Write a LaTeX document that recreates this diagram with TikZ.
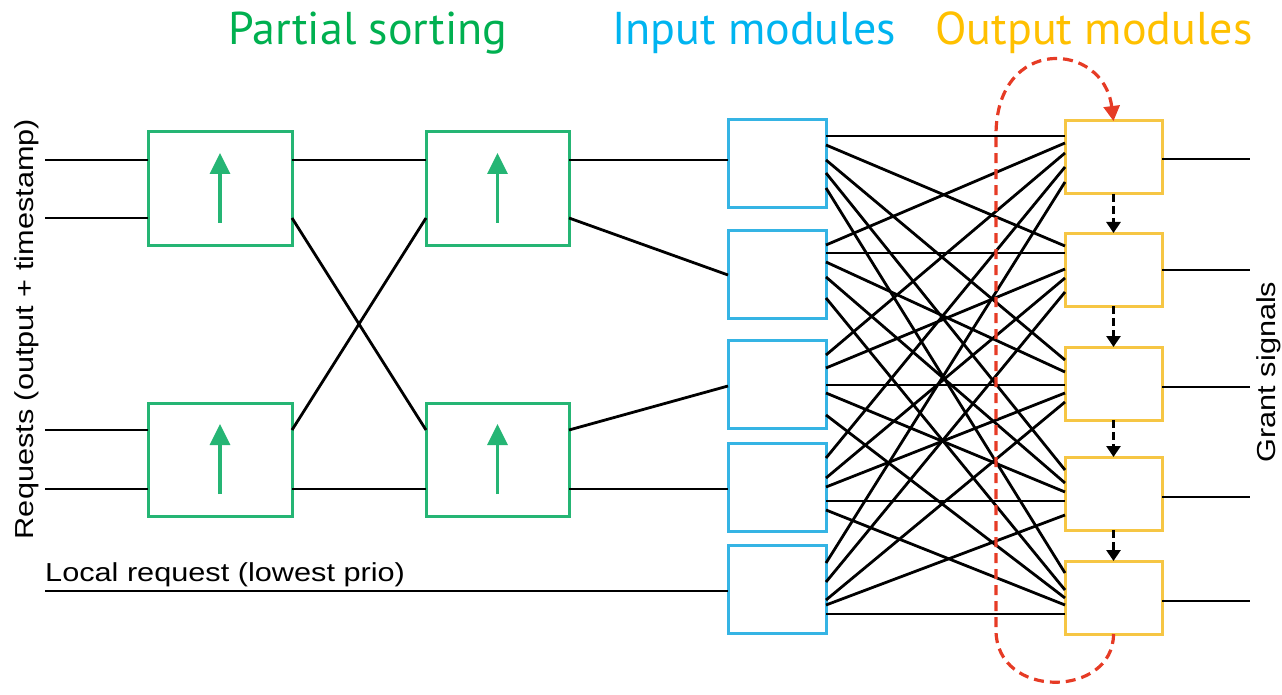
\documentclass[tikz,border=0pt]{standalone}
\usepackage{fontspec}
\setmainfont{Liberation Sans}
\newfontfamily\titlefont{PT Sans}
\usetikzlibrary{arrows.meta,calc}
\definecolor{boxgreen}{HTML}{25B574}
\definecolor{boxblue}{HTML}{35B4E4}
\definecolor{boxyellow}{HTML}{F6C644}
\definecolor{tgreen}{HTML}{00B050}
\definecolor{tblue}{HTML}{00B4F0}
\definecolor{tyellow}{HTML}{FFC000}
\definecolor{loopred}{HTML}{E63B25}
\begin{document}
\begin{tikzpicture}[x=1pt,y=-1pt,
  wire/.style={line width=2.8pt,black},
  sortbox/.style={draw=boxgreen,line width=3pt,fill=white,minimum width=144pt,minimum height=113pt,inner sep=0pt,outer sep=0pt},
  inbox/.style={draw=boxblue,line width=3pt,fill=white,minimum width=98pt,minimum height=88pt,inner sep=0pt,outer sep=0pt},
  outbox/.style={draw=boxyellow,line width=3pt,fill=white,minimum width=97pt,minimum height=73pt,inner sep=0pt,outer sep=0pt},
  sortarrow/.style={draw=boxgreen,line width=3.2pt,-{Triangle[length=21pt,width=20pt]}},
  chainarrow/.style={line width=3.5pt,black,dash pattern=on 8pt off 4pt,-{Triangle[length=11pt,width=14pt]}},
  looppath/.style={line width=3.2pt,loopred,dash pattern=on 10pt off 6pt,-{Triangle[length=15pt,width=16pt]}},
  titletext/.style={font=\titlefont\fontsize{46}{46}\selectfont,anchor=base,inner sep=0pt},
  sidetext/.style={font=\fontsize{26}{26}\selectfont,inner sep=0pt}
]
\useasboundingbox (0,0) rectangle (1282,695);

% titles
\node[titletext,text=tgreen] (t1) at (368,45) {Partial sorting};
\node[titletext,text=tblue] (t2) at (754,45) {Input modules};
\node[titletext,text=tyellow] (t3) at (1094,45) {Output modules};

% side labels
\node[sidetext,rotate=90,anchor=base] (req) at (33,329) {\scalebox{1.18}[1]{Requests (output + timestamp)}};
\node[sidetext,rotate=90,anchor=base] (grant) at (1275,372) {\scalebox{1.18}[1]{Grant signals}};
\node[sidetext,anchor=base west] (local) at (45,581) {\scalebox{1.18}[1]{Local request (lowest prio)}};

% sorting boxes
\node[sortbox] (s1a) at (220,188.5) {};
\node[sortbox] (s1b) at (220,459.5) {};
\node[sortbox,minimum width=143pt] (s2a) at (497.5,188.5) {};
\node[sortbox,minimum width=143pt] (s2b) at (497.5,459.5) {};
\foreach \s in {s1a,s1b,s2a,s2b}
  \draw[sortarrow] ($(\s.south)+(0,-22)$) -- ($(\s.north)+(0,21)$);

% input and output modules
\foreach \i/\y in {1/164,2/274,3/384,4/487,5/589}
  \node[inbox] (in\i) at (777,\y) {};
\foreach \j/\y in {1/157.5,2/269.5,3/383.5,4/493.5,5/597.5}
  \node[outbox] (o\j) at (1113.5,\y) {};

% free ends on the left
\coordinate (r1) at (45,160);
\coordinate (r2) at (45,218);
\coordinate (r3) at (45,430);
\coordinate (r4) at (45,489);
\coordinate (r5) at (45,591);

\draw[wire] (r1) -- ($(s1a.north west)+(0,28)$);
\draw[wire] (r2) -- ($(s1a.north west)+(0,86)$);
\draw[wire] (r3) -- ($(s1b.north west)+(0,27)$);
\draw[wire] (r4) -- ($(s1b.north west)+(0,86)$);

% first stage to second stage
\draw[wire] ($(s1a.north east)+(0,28)$) -- ($(s2a.north west)+(0,28)$);
\draw[wire] ($(s1a.north east)+(0,86)$) -- ($(s2b.north west)+(0,27)$);
\draw[wire] ($(s1b.north east)+(0,27)$) -- ($(s2a.north west)+(0,86)$);
\draw[wire] ($(s1b.north east)+(0,86)$) -- ($(s2b.north west)+(0,86)$);

% second stage to input modules
\draw[wire] ($(s2a.north east)+(0,28)$) -- ($(in1.north west)+(0,40)$);
\draw[wire] ($(s2a.north east)+(0,86)$) -- ($(in2.north west)+(0,45)$);
\draw[wire] ($(s2b.north east)+(0,27)$) -- ($(in3.north west)+(0,46)$);
\draw[wire] ($(s2b.north east)+(0,86)$) -- ($(in4.north west)+(0,46)$);
\draw[wire] (r5) -- ($(in5.north west)+(0,46)$);

% crossbar
\def\inoffs{{16,25,40,53,68, 15,23,32,47,68, 15,28,45,53,75, 15,35,44,58,67, 18,37,55,60,69}}
\def\outoffs{{15,22,32,46,61, 13,20,36,45,59, 13,25,38,46,55, 13,26,35,44,58, 12,29,37,44,53}}
\foreach \i in {1,...,5}{
  \foreach \j in {1,...,5}{
    \pgfmathsetmacro\a{\inoffs[(\i-1)*5+\j-1]}
    \pgfmathsetmacro\b{\outoffs[(\j-1)*5+\i-1]}
    \draw[wire] ($(in\i.north east)+(0,\a)$) -- ($(o\j.north west)+(0,\b)$);
  }
}

% grant signals
\foreach \j/\d in {1/38,2/37,3/40,4/40,5/40}{
  \coordinate (g\j) at ($(o\j.north east)+(88,\d)$);
  \draw[wire] ($(o\j.north east)+(0,\d)$) -- (g\j);
}

% priority chain
\foreach \j [evaluate=\j as \k using int(\j+1)] in {1,...,4}
  \draw[chainarrow] (o\j.south) -- (o\k.north);

% red loop
\coordinate (lpA) at (996,630);
\coordinate (lpB) at (996,135);
\draw[looppath] (o5.south) .. controls ($(o5.south)+(0,64)$) and (996,700) .. (lpA)
  -- (lpB) .. controls (996,35) and ($(o1.north)+(-10,-80)$) .. (o1.north);
\end{tikzpicture}
\end{document}
